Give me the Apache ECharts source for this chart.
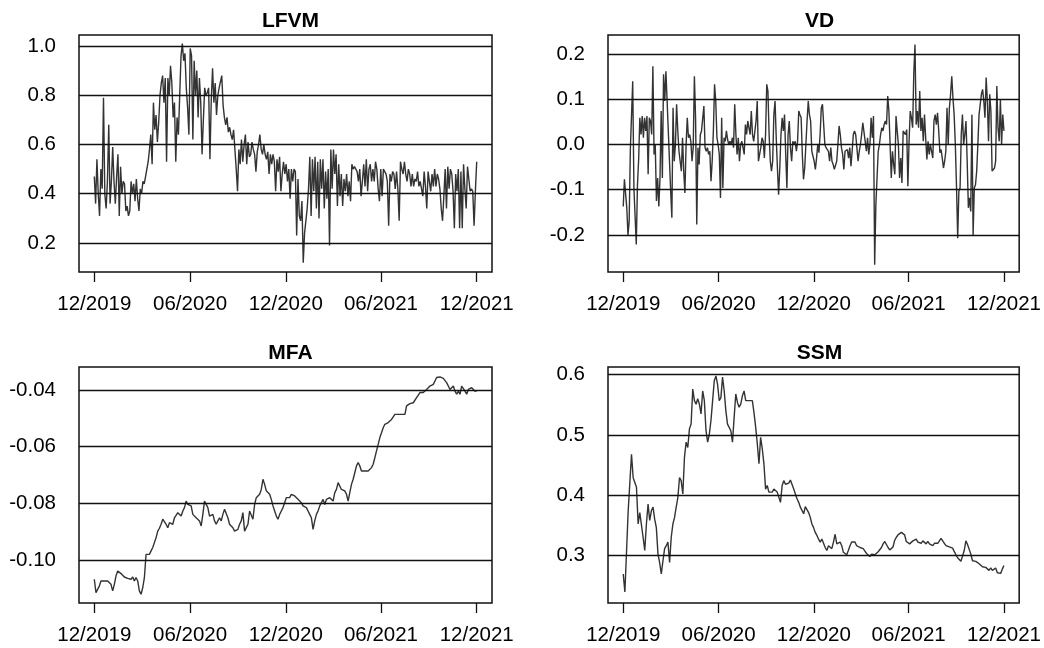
<!DOCTYPE html>
<html>
<head>
<meta charset="utf-8">
<title>LFVM / VD / MFA / SSM</title>
<script src="https://cdn.jsdelivr.net/npm/echarts@6/dist/echarts.min.js"></script>
<style>
  html, body { margin: 0; padding: 0; background: #fff; }
  #chart { width: 1044px; height: 648px; }
</style>
</head>
<body>
<div id="chart"></div>
<script>
// x axis: days since 2019-12-01, ticks on the first of the month
const tickDays = [0, 183, 366, 548, 731];
const tickLabels = ['12/2019', '06/2020', '12/2020', '06/2021', '12/2021'];
const spanDays = 731;

const lfvmTicks = [0.2, 0.4, 0.6, 0.8, 1.0];
const vdTicks = [-0.2, -0.1, 0.0, 0.1, 0.2];
const mfaTicks = [-0.10, -0.08, -0.06, -0.04];
const ssmTicks = [0.3, 0.4, 0.5, 0.6];

const lfvm = [
  0.47, 0.36, 0.54, 0.40, 0.31, 0.50, 0.42, 0.79, 0.40, 0.34, 0.45, 0.68,
  0.36, 0.45, 0.59, 0.45, 0.36, 0.47, 0.56, 0.31, 0.51, 0.40, 0.45, 0.44,
  0.33, 0.35, 0.31, 0.33, 0.45, 0.40, 0.44, 0.37, 0.46, 0.38, 0.33, 0.42,
  0.40, 0.45, 0.44, 0.47, 0.50, 0.53, 0.58, 0.64, 0.52, 0.77, 0.66, 0.72,
  0.61, 0.69, 0.80, 0.85, 0.88, 0.77, 0.87, 0.53, 0.87, 0.80, 0.92, 0.85,
  0.71, 0.77, 0.53, 0.71, 0.64, 0.80, 0.96, 1.01, 0.94, 0.97, 0.83, 0.75,
  0.64, 0.99, 0.96, 0.62, 0.94, 0.80, 0.90, 0.71, 0.87, 0.77, 0.56, 0.70,
  0.83, 0.80, 0.81, 0.83, 0.54, 0.78, 0.91, 0.77, 0.85, 0.72, 0.80, 0.83,
  0.83, 0.88, 0.76, 0.71, 0.68, 0.71, 0.65, 0.67, 0.64, 0.62, 0.66, 0.58,
  0.50, 0.41, 0.58, 0.52, 0.62, 0.53, 0.60, 0.64, 0.52, 0.61, 0.55, 0.56,
  0.61, 0.58, 0.56, 0.49, 0.57, 0.60, 0.64, 0.58, 0.56, 0.60, 0.56, 0.54,
  0.57, 0.48, 0.56, 0.52, 0.56, 0.53, 0.41, 0.54, 0.49, 0.55, 0.41, 0.48,
  0.53, 0.48, 0.52, 0.45, 0.50, 0.38,
  0.50, 0.45, 0.50, 0.49, 0.23, 0.46, 0.31,
  0.29, 0.37, 0.12, 0.24, 0.29, 0.34, 0.42,
  0.55, 0.31, 0.54, 0.41, 0.55, 0.34,
  0.53, 0.30, 0.54, 0.42, 0.54, 0.34,
  0.49, 0.38, 0.50, 0.19, 0.58, 0.42, 0.58,
  0.48, 0.56, 0.35, 0.52, 0.39, 0.48,
  0.35, 0.46, 0.41, 0.48, 0.39, 0.45,
  0.37, 0.52, 0.50, 0.51, 0.50, 0.49,
  0.45, 0.50, 0.39, 0.45, 0.52, 0.43,
  0.54, 0.41, 0.50, 0.52, 0.45, 0.50,
  0.45, 0.53, 0.50, 0.42, 0.37, 0.50,
  0.39, 0.50, 0.49, 0.48, 0.45, 0.27,
  0.48, 0.45, 0.49, 0.48, 0.42, 0.49,
  0.42, 0.29, 0.53, 0.50, 0.48, 0.53,
  0.48, 0.45, 0.50, 0.48, 0.43, 0.48,
  0.43, 0.46, 0.45, 0.49, 0.43, 0.45,
  0.42, 0.39, 0.49, 0.43, 0.34, 0.49,
  0.45, 0.41, 0.48, 0.43, 0.50, 0.43,
  0.48, 0.46, 0.42, 0.34, 0.29, 0.39,
  0.50, 0.34, 0.51, 0.42, 0.50, 0.48,
  0.41, 0.26, 0.48, 0.41, 0.50, 0.26,
  0.49, 0.26, 0.52, 0.42, 0.34, 0.51,
  0.46, 0.41, 0.42, 0.41, 0.27, 0.41, 0.53
];

const vd = [
  -0.137, -0.077, -0.081, -0.14, -0.2, -0.17, -0.011, -0.011, 0.14, -0.096,
  -0.092, -0.221, -0.089, -0.033, 0.059, 0.022, 0.063, 0.015, 0.059, 0.030,
  0.063, -0.066, 0.059, 0.052, 0.022, 0.173, -0.022, 0, -0.125, -0.074,
  -0.137, -0.074, 0.074, -0.074, 0.155, 0.096, 0.162, 0.096, 0.030, -0.037,
  -0.103, -0.162, 0.081, -0.037, 0, 0.089, 0.030, -0.015, -0.037, -0.059,
  0.015, -0.059, -0.107, 0, 0.059, 0.015, 0.022, 0.007, -0.037, -0.007,
  0.151, 0.059, -0.177, -0.007, -0.044, 0.022, 0.030, 0.030, 0.085, -0.007,
  -0.015, -0.007, -0.022, -0.015, -0.081, -0.037, 0.030, 0.133, 0.096, 0.015,
  0, -0.022, -0.118, 0.059, -0.096, 0.015, 0.007, 0.030, 0.011, 0,
  0.007, 0, 0.015, -0.007, 0.089, 0.022, -0.022, 0.015, -0.037, 0,
  0.007, -0.007, -0.022, 0.044, 0.022, 0.052, 0.037, 0.022, 0.074, 0.022,
  0.007, 0.007, 0.052, 0.096, -0.037, -0.022, -0.007, 0.015, 0.007, -0.030,
  0.022, 0.133, 0.118, 0.022, -0.037, -0.059, -0.037, 0.066, 0.096, 0.015,
  -0.052, -0.111, -0.052, 0.022, 0.059, 0.030, 0.066, -0.022, -0.096, 0.022,
  0.052, -0.007, -0.037, 0.007, 0, 0.007, -0.015, 0.007, 0.074, 0.066,
  0.059, -0.022, -0.077, -0.052, 0, 0.052, 0.096, 0.066, 0.052, -0.015,
  -0.011, -0.037, -0.055, -0.030,
  0, -0.018, 0.022, 0.081, 0.089, 0.085, 0, -0.007, -0.004, -0.015,
  -0.037, -0.007, -0.037, -0.044, -0.055, -0.052, -0.037, 0, 0.041, 0.022,
  -0.007, -0.022, -0.055, -0.015, -0.018, -0.011, -0.030, -0.007, -0.048, -0.015,
  0.022, 0.030, 0.022, -0.007, -0.037, -0.015, 0, 0.022, 0.048, 0.044,
  0.007, -0.015, 0.015, -0.022, 0, 0.059, 0.015, 0.063, -0.266, -0.133,
  -0.137, -0.015, 0, 0.022, 0.037, 0.030, 0.044, 0.052, 0.044, 0.107,
  0.074, 0, -0.074, -0.015, -0.044, -0.066, 0.063, 0.030, 0, -0.074,
  -0.030, -0.085, 0.030, 0.030, 0.022, 0.033, -0.092, 0.007, 0.074, 0.059,
  0.037, 0.159, 0.221, 0.044, 0.074, 0.037, 0.118, 0.030, 0.059, 0.007,
  0.066, 0.015, -0.033, 0.007, -0.022, 0, 0.004, -0.030, 0.052, 0.066,
  0.044, 0.070, 0.030, -0.018, -0.011, -0.030, -0.052, -0.037, -0.015, 0.081,
  0, 0.081, 0.111, 0.151, 0.103, 0.066, 0, -0.092, -0.207, -0.103,
  -0.096, 0.022, 0.066, 0, 0.022, 0.052, -0.037, -0.140, -0.118, -0.148,
  0.066, -0.2, -0.096, -0.089, -0.059, 0, 0.066, 0.070, 0.111, 0.122,
  0.096, 0.059, 0.148, 0.096, 0.007, 0.111, 0.074, -0.059, -0.063, -0.052,
  -0.037, 0.129, 0.037, 0.007, 0.1, 0, 0.066, 0.030
];

const mfa = [
  -0.1068, -0.1115, -0.1121, -0.1092, -0.1074, -0.1072, -0.1074, -0.1072, -0.1074, -0.1076,
  -0.1086, -0.1109, -0.1086, -0.1056, -0.1039, -0.1041, -0.1048, -0.1053, -0.1060, -0.1062,
  -0.1065, -0.1072, -0.1068, -0.1060, -0.1074, -0.1062, -0.1074, -0.1109, -0.1121, -0.1098,
  -0.1062, -0.0980, -0.0986, -0.0980, -0.0968, -0.0956, -0.0951, -0.0921, -0.0898, -0.0888,
  -0.0874, -0.0856, -0.0862, -0.0874, -0.0886, -0.0868, -0.0874, -0.0874, -0.0851, -0.0845,
  -0.0833, -0.0839, -0.0845, -0.0827, -0.0815, -0.0792, -0.0804, -0.0798, -0.0809, -0.0839,
  -0.0833, -0.0851, -0.0856, -0.0862, -0.0880, -0.0839, -0.0792, -0.0792, -0.0815, -0.0845,
  -0.0851, -0.0839, -0.0862, -0.0874, -0.0862, -0.0851, -0.0862, -0.0839, -0.0821, -0.0815,
  -0.0851, -0.0874, -0.0874, -0.0886, -0.0898, -0.0904, -0.0892, -0.0874, -0.0862, -0.0833,
  -0.0898, -0.0904, -0.0874, -0.0827, -0.0833, -0.0856, -0.0804, -0.0780, -0.0774, -0.0768,
  -0.0751, -0.0715, -0.0733, -0.0756, -0.0762, -0.0768, -0.0786, -0.0809, -0.0827, -0.0845,
  -0.0856, -0.0839, -0.0827, -0.0815, -0.0809, -0.0780, -0.0786, -0.0780, -0.0768, -0.0768,
  -0.0774, -0.0780, -0.0786, -0.0792, -0.0798, -0.0809, -0.0815, -0.0815, -0.0827, -0.0839,
  -0.0851, -0.0892, -0.0862, -0.0839, -0.0827, -0.0809, -0.0809, -0.0786, -0.0804, -0.0786,
  -0.0792, -0.0780, -0.0786, -0.0792, -0.0762, -0.0751, -0.0727, -0.0733, -0.0751, -0.0745,
  -0.0756, -0.0768, -0.0792, -0.0762, -0.0733, -0.0715, -0.0692, -0.0668, -0.0656, -0.0668,
  -0.0686, -0.0680, -0.0686, -0.0680, -0.0686, -0.0680, -0.0674, -0.0662, -0.0639, -0.0615,
  -0.0592, -0.0568, -0.0551, -0.0533, -0.0521, -0.0521, -0.0515, -0.0509, -0.0504, -0.0498,
  -0.0486, -0.0484, -0.0486, -0.0484, -0.0486, -0.0492, -0.0486, -0.0456, -0.0451, -0.0448,
  -0.0451, -0.0445, -0.0439, -0.0427, -0.0421, -0.0409, -0.0404, -0.0409, -0.0404, -0.0398,
  -0.0392, -0.0386, -0.0386, -0.0380, -0.0368, -0.0356, -0.0351, -0.0354, -0.0356, -0.0359,
  -0.0362, -0.0374, -0.0386, -0.0398, -0.0392, -0.0386, -0.0404, -0.0415, -0.0404, -0.0415,
  -0.0386, -0.0392, -0.0404, -0.0415, -0.0398, -0.0404, -0.0392, -0.0398, -0.0404, -0.0404
];

const ssm = [
  0.269, 0.239, 0.241, 0.374, 0.374, 0.468, 0.429, 0.421, 0.413, 0.352,
  0.371, 0.369, 0.330, 0.308, 0.352, 0.385, 0.358, 0.374, 0.380, 0.360,
  0.346, 0.302, 0.288, 0.269, 0.291, 0.311, 0.316, 0.322, 0.288, 0.330,
  0.352, 0.363, 0.380, 0.396, 0.429, 0.424, 0.402, 0.463, 0.488, 0.479,
  0.510, 0.518, 0.576, 0.557, 0.551, 0.560, 0.551, 0.535, 0.573, 0.557,
  0.507, 0.488, 0.501, 0.524, 0.557, 0.590, 0.598, 0.584, 0.557, 0.562,
  0.596, 0.573, 0.540, 0.518, 0.521, 0.507, 0.488, 0.529, 0.568, 0.554,
  0.546, 0.551, 0.565, 0.573, 0.557, 0.557, 0.557, 0.554, 0.557, 0.537,
  0.513, 0.485, 0.452, 0.496, 0.477, 0.452, 0.410, 0.416, 0.405, 0.407,
  0.405, 0.410, 0.407, 0.405, 0.407, 0.388, 0.416, 0.424, 0.418, 0.421,
  0.420, 0.425, 0.424, 0.410, 0.402, 0.394, 0.388, 0.380, 0.380, 0.369,
  0.381, 0.380, 0.371, 0.363, 0.352, 0.346, 0.338, 0.333, 0.327, 0.322,
  0.327, 0.327, 0.313, 0.308, 0.316, 0.319, 0.311, 0.322, 0.335, 0.319,
  0.316, 0.322, 0.316, 0.305, 0.302, 0.301, 0.308, 0.316, 0.322, 0.319,
  0.322, 0.316, 0.314, 0.313, 0.312, 0.311, 0.307, 0.303, 0.301, 0.298,
  0.302, 0.303, 0.301, 0.303, 0.306, 0.309, 0.313, 0.319, 0.323, 0.318,
  0.313, 0.309, 0.311, 0.314, 0.325, 0.330, 0.334, 0.337, 0.338, 0.337,
  0.334, 0.323, 0.325, 0.319, 0.316, 0.324, 0.327, 0.327, 0.322, 0.323,
  0.320, 0.324, 0.325, 0.319, 0.323, 0.319, 0.321, 0.316, 0.320, 0.323,
  0.320, 0.318, 0.328, 0.327, 0.320, 0.316, 0.314, 0.314, 0.311, 0.312,
  0.306, 0.301, 0.296, 0.293, 0.290, 0.290, 0.308, 0.324, 0.318, 0.319,
  0.302, 0.291, 0.290, 0.290, 0.288, 0.286, 0.285, 0.281, 0.278, 0.280,
  0.277, 0.275, 0.279, 0.275, 0.272, 0.279, 0.271, 0.269, 0.270, 0.277,
  0.283
];

const fontFamily = '"Liberation Sans", Arial, Helvetica, sans-serif';

const panels = [
  { title: 'LFVM', values: lfvm, ticks: lfvmTicks, digits: 1, yMin: 0.0822, yMax: 1.0447, left: 79, top: 35, height: 237 },
  { title: 'VD', values: vd, ticks: vdTicks, digits: 1, yMin: -0.2818, yMax: 0.242, left: 608, top: 35, height: 237 },
  { title: 'MFA', values: mfa, ticks: mfaTicks, digits: 2, yMin: -0.11518, yMax: -0.03188, left: 79, top: 367, height: 236 },
  { title: 'SSM', values: ssm, ticks: ssmTicks, digits: 1, yMin: 0.2208, yMax: 0.6128, left: 608, top: 367, height: 236 }
];

const toPoints = vals => vals.map((v, i) => [(i * spanDays) / (vals.length - 1), v]);

const pad = spanDays * 0.04;
const panelWidth = 413;

const chart = echarts.init(document.getElementById('chart'), null, { renderer: 'canvas' });

chart.setOption({
  animation: false,
  backgroundColor: '#fff',
  title: panels.map(p => ({
    text: p.title,
    left: p.left + panelWidth / 2,
    top: p.top - 29,
    textAlign: 'center',
    textStyle: { fontSize: 21, fontWeight: 'bold', color: '#000', fontFamily }
  })),
  grid: panels.map(p => ({
    left: p.left,
    top: p.top,
    width: panelWidth,
    height: p.height,
    show: true,
    borderColor: '#111',
    borderWidth: 1.5,
    backgroundColor: 'transparent'
  })),
  xAxis: panels.map((p, k) => ({
    type: 'value',
    gridIndex: k,
    min: -pad,
    max: spanDays + pad,
    axisLine: { show: false, onZero: false },
    splitLine: { show: false },
    axisTick: {
      show: true,
      inside: false,
      length: 10,
      customValues: tickDays,
      lineStyle: { color: '#111', width: 1.3 }
    },
    axisLabel: {
      customValues: tickDays,
      formatter: v => tickLabels[tickDays.indexOf(v)],
      fontSize: 20.5,
      color: '#000',
      fontFamily,
      margin: 22
    }
  })),
  yAxis: panels.map((p, k) => ({
    type: 'value',
    gridIndex: k,
    min: p.yMin,
    max: p.yMax,
    axisLine: { show: false, onZero: false },
    axisTick: { show: false },
    splitLine: { show: false },
    axisLabel: {
      customValues: p.ticks,
      formatter: v => v.toFixed(p.digits),
      fontSize: 20.5,
      color: '#000',
      fontFamily,
      margin: 23
    }
  })),
  series: panels.map((p, k) => ({
    type: 'line',
    name: p.title,
    xAxisIndex: k,
    yAxisIndex: k,
    data: toPoints(p.values),
    showSymbol: false,
    symbol: 'none',
    lineStyle: { color: '#333', width: 1.4 },
    markLine: {
      silent: true,
      symbol: ['none', 'none'],
      label: { show: false },
      lineStyle: { color: '#111', width: 1.3, type: 'solid' },
      data: p.ticks.map(t => ({ yAxis: t }))
    }
  }))
});
</script>
</body>
</html>
